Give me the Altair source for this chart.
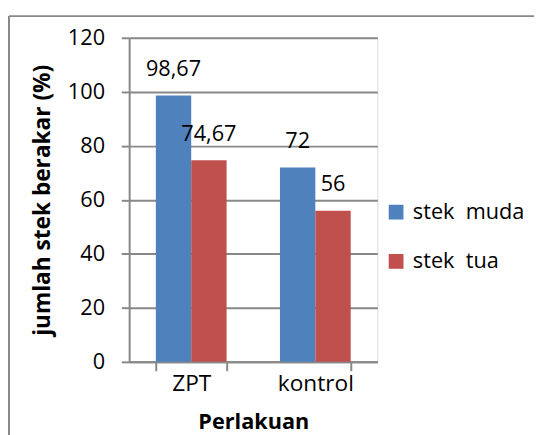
import altair as alt
import pandas as pd

categories = ["ZPT", "kontrol"]
series = ["stek\u00a0\u00a0muda", "stek\u00a0\u00a0tua"]
muda_values = [98.67, 72]
tua_values = [74.67, 56]
muda_labels = ["98,67", "72"]
tua_labels = ["74,67", "56"]
y_ticks = [0, 20, 40, 60, 80, 100, 120]
colors = ["#4F81BD", "#C0504D"]

rows = []
for i, c in enumerate(categories):
    rows.append({"Perlakuan": c, "series": series[0], "value": muda_values[i], "label": muda_labels[i]})
    rows.append({"Perlakuan": c, "series": series[1], "value": tua_values[i], "label": tua_labels[i]})
df = pd.DataFrame(rows)

FONT = "Open Sans"
GRAY = "#888888"

x_enc = alt.X(
    "Perlakuan:N",
    sort=categories,
    scale=alt.Scale(paddingInner=0.43, paddingOuter=0.215),
    axis=alt.Axis(
        title="Perlakuan",
        titleFont=FONT, titleFontSize=22, titleFontWeight="bold", titleColor="black",
        titleY=68, titleBaseline="alphabetic",
        labelFont=FONT, labelFontSize=23, labelColor="black", labelAngle=0,
        labelPadding=2,
        tickBand="extent", tickSize=9, tickColor=GRAY, tickWidth=2,
        domainColor=GRAY, domainWidth=2, grid=False,
    ),
)
y_enc = alt.Y(
    "value:Q",
    scale=alt.Scale(domain=[0, 120]),
    axis=alt.Axis(
        values=y_ticks,
        title="jumlah stek berakar (%)",
        titleFont=FONT, titleFontSize=23, titleFontWeight="bold", titleColor="black",
        titleX=-88, titleY=164.5, titleAngle=-90, titleBaseline="middle",
        labelFont=FONT, labelFontSize=22, labelColor="black", labelPadding=17,
        tickSize=8, tickColor=GRAY, tickWidth=2,
        domainColor=GRAY, domainWidth=2,
        grid=True, gridColor=GRAY, gridWidth=2,
    ),
)

bars = alt.Chart(df).mark_bar().encode(
    x=x_enc,
    xOffset=alt.XOffset("series:N", sort=series),
    y=y_enc,
    color=alt.Color(
        "series:N",
        scale=alt.Scale(domain=series, range=colors),
        legend=alt.Legend(
            title=None, orient="none", legendX=260, legendY=166,
            symbolType="square", symbolSize=225, symbolStrokeWidth=0,
            labelFont=FONT, labelFontSize=22, labelColor="black", labelOffset=6,
            rowPadding=28, padding=0,
        ),
    ),
)

text = alt.Chart(df).mark_text(
    dy=-20, baseline="alphabetic", font=FONT, fontSize=22, color="black"
).encode(
    x=alt.X("Perlakuan:N", sort=categories),
    xOffset=alt.XOffset("series:N", sort=series),
    y=alt.Y("value:Q"),
    text="label:N",
)

frame = pd.DataFrame({"k": [0]})
border_top = alt.Chart(frame).mark_rule(color=GRAY, strokeWidth=2).encode(
    x=alt.value(-122), x2=alt.value(800), y=alt.value(-22)
)
border_left = alt.Chart(frame).mark_rule(color=GRAY, strokeWidth=2).encode(
    x=alt.value(-122), y=alt.value(-22), y2=alt.value(800)
)

chart = alt.layer(bars, text, border_top, border_left).properties(
    width=252,
    height=329,
    autosize=alt.AutoSizeParams(type="none"),
    padding={"left": 123, "top": 27, "right": 159, "bottom": 71},
).configure_view(stroke=None).configure(background="white")

chart.save("out.html", embed_options={"renderer": "svg", "actions": False})
